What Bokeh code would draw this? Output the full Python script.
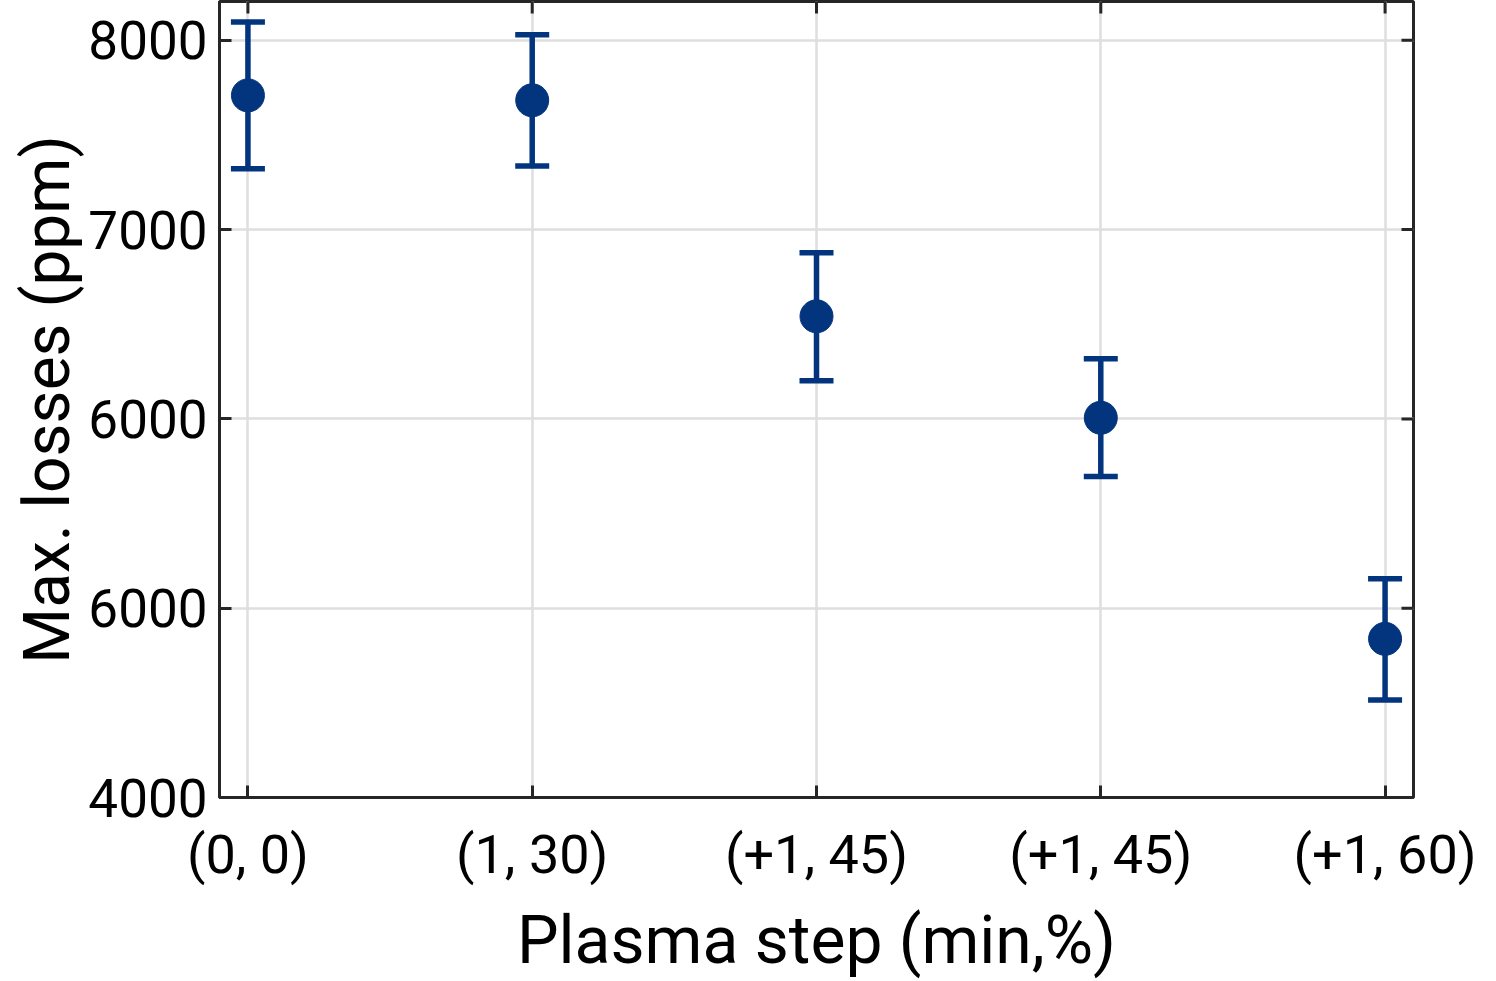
import math
from bokeh.plotting import figure
from bokeh.models import (ColumnDataSource, Whisker, TeeHead, FixedTicker, Range1d)
from bokeh.embed import file_html
from bokeh.resources import INLINE

# ---- data ----
steps = ["(0, 0)", "(1, 30)", "(+1, 45)", "(+1, 45)", "(+1, 60)"]
max_losses = [7709, 7683, 6542, 6006, 4838]
upper = [8097, 8030, 6878, 6318, 5155]
lower = [7322, 7336, 6202, 5696, 4515]
y_ticks = [4000, 5000, 6000, 7000, 8000]
y_tick_labels = ["4000", "6000", "6000", "7000", "8000"]

x_pos = list(range(1, len(steps) + 1))
NAVY = "#03357f"
AXIS = "#262626"
FONT = "Roboto"
X_START, X_END = 0.9, 5.1
Y_START, Y_END = 4000, 8205

src = ColumnDataSource(dict(x=x_pos, y=max_losses, up=upper, lo=lower))

p = figure(width=1496, height=981, output_backend="svg", toolbar_location=None,
           x_range=Range1d(X_START, X_END), y_range=Range1d(Y_START, Y_END),
           min_border_left=219, min_border_right=83, min_border_top=1,
           min_border_bottom=184)
p.outline_line_color = AXIS
p.outline_line_width = 3
p.background_fill_color = "white"

# grid
p.xgrid.ticker = FixedTicker(ticks=x_pos)
p.ygrid.ticker = FixedTicker(ticks=y_ticks)
for g in (p.xgrid, p.ygrid):
    g.grid_line_color = "#dedede"
    g.grid_line_width = 2.5

# mirrored inward ticks on top and right edges
p.ray(x=x_pos, y=[Y_END] * len(x_pos), length=12, length_units="screen",
      angle=-math.pi / 2, line_color=AXIS, line_width=3)
p.ray(x=[X_END] * len(y_ticks), y=y_ticks, length=12, length_units="screen",
      angle=math.pi, line_color=AXIS, line_width=3)

# error bars
tee = dict(size=34, line_width=5.5, line_color=NAVY)
w = Whisker(source=src, base="x", upper="up", lower="lo",
            line_color=NAVY, line_width=5.5,
            upper_head=TeeHead(**tee), lower_head=TeeHead(**tee))
p.add_layout(w)

p.scatter("x", "y", source=src, size=33, fill_color=NAVY, line_color=NAVY,
          line_width=1)

# axes styling
def style(ax, tick_size, label_size):
    ax.axis_line_color = AXIS
    ax.axis_line_width = 3
    ax.major_tick_line_color = AXIS
    ax.major_tick_line_width = 3
    ax.major_tick_in = 12
    ax.major_tick_out = 0
    ax.minor_tick_line_color = None
    ax.major_label_text_font = FONT
    ax.major_label_text_font_size = tick_size
    ax.major_label_text_color = "black"
    ax.axis_label_text_font = FONT
    ax.axis_label_text_font_size = label_size
    ax.axis_label_text_font_style = "normal"
    ax.axis_label_text_color = "black"

xa = p.xaxis[0]
xa.ticker = FixedTicker(ticks=x_pos)
xa.major_label_overrides = {x: s for x, s in zip(x_pos, steps)}
xa.axis_label = "Plasma step (min,%)"
style(xa, "54px", "66px")
xa.major_label_standoff = 25
xa.axis_label_standoff = 13

ya = p.yaxis[0]
ya.ticker = FixedTicker(ticks=y_ticks)
ya.major_label_overrides = {t: s for t, s in zip(y_ticks, y_tick_labels)}
ya.axis_label = "Max. losses (ppm)"
style(ya, "53px", "64px")
ya.major_label_standoff = 12
ya.axis_label_standoff = 0

open("out.html", "w").write(file_html(p, INLINE))
